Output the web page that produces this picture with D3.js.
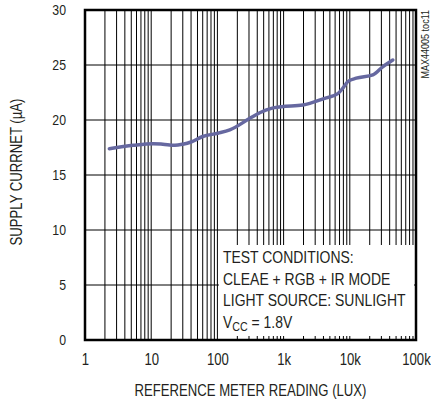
<!DOCTYPE html>
<html><head><meta charset="utf-8">
<script src="https://cdn.jsdelivr.net/npm/d3@7"></script>
<style>
body{margin:0;background:#fff;}
text{font-family:"Liberation Sans Narrow","Arial Narrow","Liberation Sans",Arial,sans-serif;fill:#231f20;}
</style></head>
<body><svg id="c" width="431" height="402"></svg>
<script>
const luxValues = [2.33, 5.36, 10.7, 15, 22.8, 30, 40, 60, 102, 154, 309, 436, 654, 927, 1955, 4170, 6600, 7870, 9370, 12530, 22300, 31700, 44700];
const currentValues = [17.39, 17.7, 17.85, 17.8, 17.7, 17.8, 18.0, 18.5, 18.8, 19.1, 20.15, 20.66, 21.06, 21.2, 21.36, 21.97, 22.4, 22.9, 23.5, 23.8, 24.1, 24.85, 25.45];
const xTickValues = [1, 10, 100, 1000, 10000, 100000];
const xTickLabels = ["1", "10", "100", "1k", "10k", "100k"];
const yTickValues = [0, 5, 10, 15, 20, 25, 30];
const legendLines = ["TEST CONDITIONS:", "CLEAE + RGB + IR MODE", "LIGHT SOURCE: SUNLIGHT"];

const svg = d3.select("#c");
const L = 85, R = 416, T = 10, B = 340;
const x = d3.scaleLog().domain([1, 100000]).range([L, R]);
const y = d3.scaleLinear().domain([0, 30]).range([B, T]);

function narrow(sel, f = 0.82) {
  sel.each(function () {
    const w = this.getComputedTextLength();
    d3.select(this).attr("textLength", w * f).attr("lengthAdjust", "spacingAndGlyphs");
  });
  return sel;
}

const gridX = [];
for (let d = 1; d < 100000; d *= 10) for (let k = 1; k <= 9; k++) gridX.push(d * k);
gridX.push(100000);

const g = svg.append("g");
g.selectAll(".vx").data(gridX).enter().append("line")
  .attr("x1", d => x(d)).attr("x2", d => x(d)).attr("y1", T).attr("y2", B)
  .attr("stroke", "#000").attr("stroke-width", 1);
g.selectAll(".hy").data(yTickValues.slice(1, -1)).enter().append("line")
  .attr("x1", L).attr("x2", R).attr("y1", d => y(d)).attr("y2", d => y(d))
  .attr("stroke", "#000").attr("stroke-width", 1);

const line = d3.line().x((d, i) => x(luxValues[i])).y(d => y(d)).curve(d3.curveMonotoneX);
svg.append("path").datum(currentValues).attr("d", line)
  .attr("fill", "none").attr("stroke", "#6668a0").attr("stroke-width", 3.5).attr("stroke-linecap", "round");

svg.append("rect").attr("x", x(100) + 1.5).attr("y", 245).attr("width", R - 2 - (x(100) + 1.5)).attr("height", 336 - 245).attr("fill", "#fff");
const leg = svg.append("g");
legendLines.forEach((t, i) => {
  narrow(leg.append("text").attr("x", 223).attr("y", 263 + i * 21.7).attr("font-size", 17).text(t));
});
const vt = leg.append("text").attr("x", 223).attr("y", 263 + 3 * 21.7).attr("font-size", 17);
vt.append("tspan").text("V");
vt.append("tspan").attr("font-size", 13).attr("dy", 3).text("CC");
vt.append("tspan").attr("dy", -3).text(" = 1.8V");
narrow(vt);

svg.append("rect").attr("x", L).attr("y", T).attr("width", R - L).attr("height", B - T)
  .attr("fill", "none").attr("stroke", "#000").attr("stroke-width", 2.5);

const xa = svg.append("g").attr("transform", `translate(0,${B})`)
  .call(d3.axisBottom(x).tickValues(xTickValues).tickFormat((d, i) => xTickLabels[i]).tickSize(0).tickPadding(13.5));
xa.select(".domain").remove();
xa.selectAll("text").attr("font-size", 16).attr("fill", "#231f20").attr("font-family", null);
narrow(xa.selectAll("text"));
const ya = svg.append("g").attr("transform", `translate(${L},0)`)
  .call(d3.axisLeft(y).tickValues(yTickValues).tickSize(0).tickPadding(19));
ya.select(".domain").remove();
ya.selectAll("text").attr("font-size", 15).attr("fill", "#231f20").attr("font-family", null);
narrow(ya.selectAll("text"));

narrow(svg.append("text").attr("x", (L + R) / 2).attr("y", 396).attr("text-anchor", "middle")
  .attr("font-size", 16).text("REFERENCE METER READING (LUX)"));
narrow(svg.append("text").attr("transform", `translate(22,172) rotate(-90)`).attr("text-anchor", "middle")
  .attr("font-size", 16).text("SUPPLY CURRNET (\u00b5A)"));
narrow(svg.append("text").attr("transform", `translate(429,10) rotate(-90)`).attr("text-anchor", "end")
  .attr("font-size", 11).text("MAX44005 toc11"));
</script></body></html>
